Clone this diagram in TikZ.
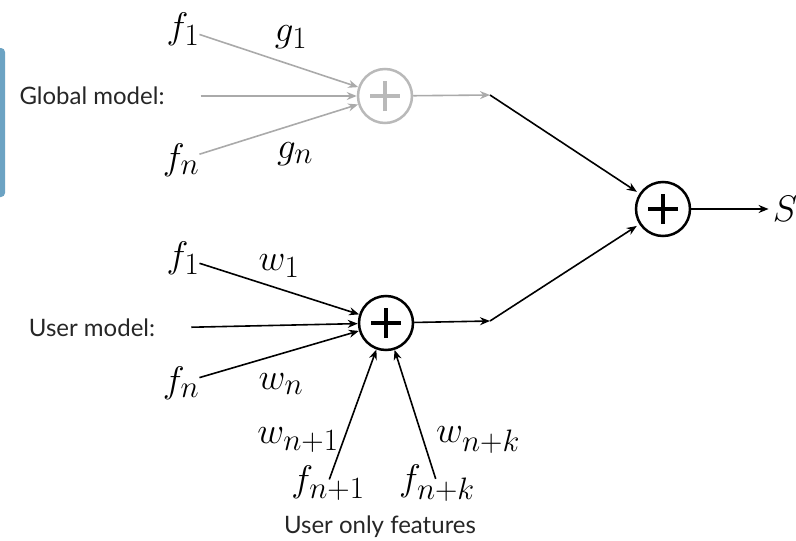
\RequirePackage{fix-cm}
\documentclass[tikz,border=0pt]{standalone}
\usepackage{fontspec}
\newfontfamily\labelfont{Lato}
\DeclareMathSizes{37}{37}{31}{23}
\usetikzlibrary{arrows.meta}

\definecolor{faded}{RGB}{170,170,170}
\definecolor{fadedring}{RGB}{185,185,185}
\definecolor{sidebar}{RGB}{108,163,195}

\begin{document}
\begin{tikzpicture}[x=1pt, y=-1pt,
      var/.style={inner sep=0pt, font=\fontsize{37}{43}\selectfont},      % math symbols
      txt/.style={inner sep=0pt, font=\labelfont\fontsize{24}{28}\selectfont, text=black!85},
      sumnode/.style={circle, draw=#1, line width=2.5pt, minimum size=54pt, inner sep=0pt, fill=white,
                      path picture={\draw[#1, line width=4pt]
                        (path picture bounding box.center) ++(-15pt,0) -- ++(30pt,0)
                        (path picture bounding box.center) ++(0,-15pt) -- ++(0,30pt);}},
      arr/.style={line width=1.6pt, -{Stealth[length=10pt,width=8pt]}},     % black arrow
      farr/.style={arr, draw=faded, -{Stealth[length=10pt,width=8pt,faded]}}] % global model arrow
    \useasboundingbox (0,0) rectangle (796,541);
    \fill[sidebar, rounded corners=4pt] (-10,48) rectangle (5,197);

    % global model
    \node[txt] (glab) at (92,96) {Global model:};
    \node[sumnode=fadedring] (gsum) at (385,96) {};
    \node[var] (gf1) at (183,29) {$f_1$};
    \node[var] (gfn) at (181,160) {$f_n$};
    \node[var] (gw1) at (291,37) {$g_1$};
    \node[var] (gwn) at (295,154) {$g_n$};
    \coordinate (gjoin) at (490,95);
    \draw[farr] (gf1) -- (gsum);
    \draw[farr, shorten <=36pt] (glab.east) -- (gsum);
    \draw[farr] (gfn) -- (gsum);
    \draw[farr] (gsum) -- (gjoin);

    % user model
    \node[txt] (ulab) at (92,328) {User model:};
    \node[sumnode=black] (usum) at (386,323) {};
    \node[var] (uf1) at (183,258) {$f_1$};
    \node[var] (ufn) at (181,383) {$f_n$};
    \node[var] (uw1) at (279,266) {$w_1$};
    \node[var] (uwn) at (281,384) {$w_n$};
    \node[var] (uf1n) at (328,483) {$f_{n+1}$};
    \node[var] (ufkn) at (437,483) {$f_{n+k}$};
    \node[var] (uw1n) at (298,440) {$w_{n+1}$};
    \node[var] (uwkn) at (478,440) {$w_{n+k}$};
    \node[txt] (extra) at (380,527) {User only features};
    \coordinate (ujoin) at (490,321);
    \draw[arr] (uf1) -- (usum);
    \draw[arr, shorten <=36pt] (ulab.east) -- (usum);
    \draw[arr] (ufn) -- (usum);
    \draw[arr, shorten <=-15pt] (uf1n) -- (usum);
    \draw[arr, shorten <=-15pt] (ufkn) -- (usum);
    \draw[arr] (usum) -- (ujoin);

    % combined score
    \node[sumnode=black] (fsum) at (663,209) {};
    \node[var] (score) at (785,209) {$S$};
    \draw[arr, shorten >=3pt] (gjoin) -- (fsum);
    \draw[arr, shorten >=3pt] (ujoin) -- (fsum);
    \draw[arr, shorten >=4pt] (fsum) -- (score);
  \end{tikzpicture}
\end{document}
